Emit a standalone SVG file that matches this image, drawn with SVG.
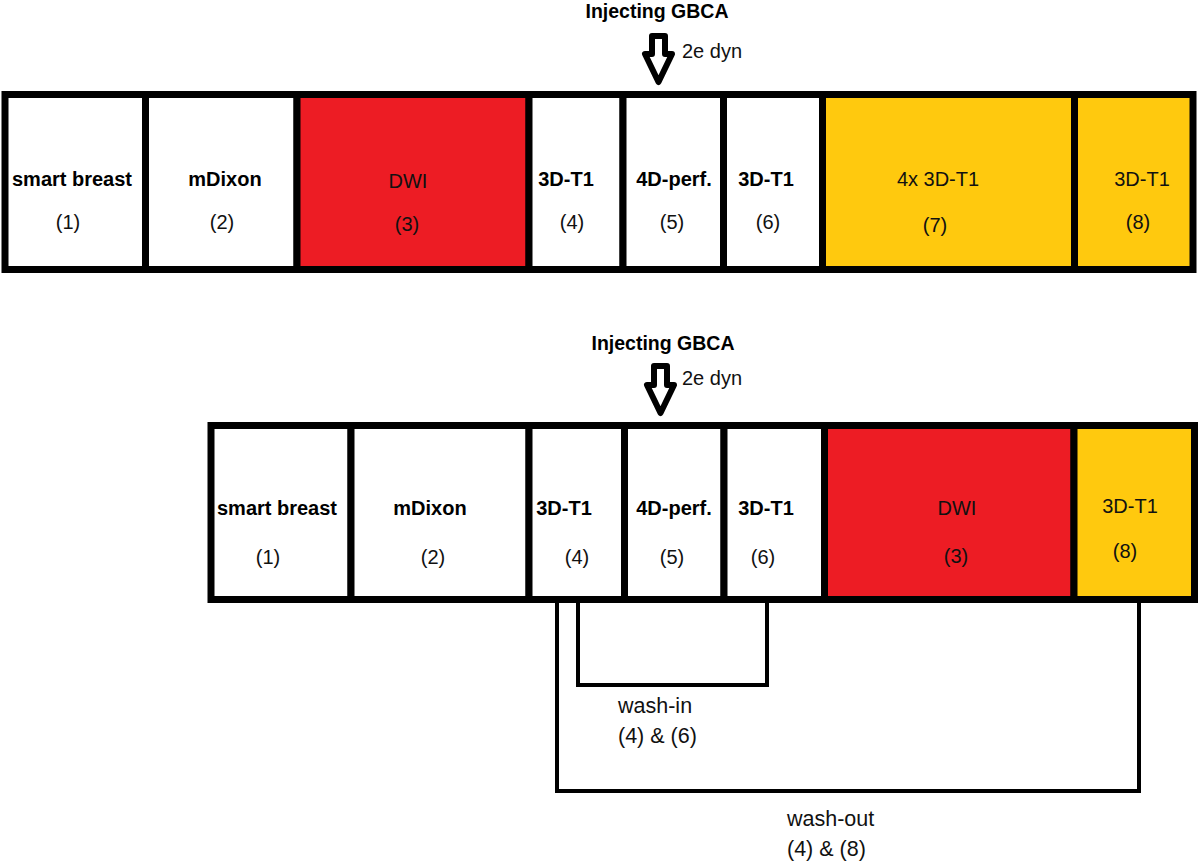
<svg xmlns="http://www.w3.org/2000/svg" width="1200" height="862" viewBox="0 0 1200 862">
<style>
.cell{stroke:#000;stroke-width:7}
.w{fill:#fff}.r{fill:#ED1C24}.y{fill:#FFC90E}
.b{font-family:"Liberation Sans",Arial,sans-serif;font-weight:bold;font-size:20px;fill:#000;text-anchor:middle}
.n{font-family:"Liberation Sans",Arial,sans-serif;font-size:20px;fill:#111;text-anchor:middle}
.l{font-family:"Liberation Sans",Arial,sans-serif;font-size:20px;fill:#111}
.lw{font-family:"Liberation Sans",Arial,sans-serif;font-size:21.5px;fill:#111}
.conn{fill:none;stroke:#000;stroke-width:4}
.arr{fill:#fff;stroke:#000;stroke-width:6;stroke-linejoin:round}
</style>
<rect width="1200" height="862" fill="#fff"/>

<g id="top-inject">
<text class="b" x="657" y="18" style="font-size:19.5px">Injecting GBCA</text>
<path class="arr" d="M652,36 H665 V54 H672 L658.5,82 L645,54 H652 Z"/>
<text class="l" x="682" y="58">2e dyn</text>
</g>

<g id="top-1"><rect class="cell w" x="5" y="94.5" width="140.5" height="175"/><text class="b" x="72" y="186">smart breast</text><text class="n" x="68" y="229">(1)</text></g>
<g id="top-2"><rect class="cell w" x="145.5" y="94.5" width="151.5" height="175"/><text class="b" x="225" y="186">mDixon</text><text class="n" x="222" y="229">(2)</text></g>
<g id="top-3"><rect class="cell r" x="297" y="94.5" width="232" height="175"/><text class="n" x="408" y="188">DWI</text><text class="n" x="407" y="231">(3)</text></g>
<g id="top-4"><rect class="cell w" x="529" y="94.5" width="94" height="175"/><text class="b" x="566" y="186">3D-T1</text><text class="n" x="572" y="229">(4)</text></g>
<g id="top-5"><rect class="cell w" x="623" y="94.5" width="100.5" height="175"/><text class="b" x="674" y="186">4D-perf.</text><text class="n" x="672" y="229">(5)</text></g>
<g id="top-6"><rect class="cell w" x="723.5" y="94.5" width="99" height="175"/><text class="b" x="766" y="186">3D-T1</text><text class="n" x="768" y="229">(6)</text></g>
<g id="top-7"><rect class="cell y" x="822.5" y="94.5" width="252" height="175"/><text class="n" x="938" y="186">4x 3D-T1</text><text class="n" x="935" y="232">(7)</text></g>
<g id="top-8"><rect class="cell y" x="1074.5" y="94.5" width="118.5" height="175"/><text class="n" x="1142" y="186">3D-T1</text><text class="n" x="1138" y="229">(8)</text></g>

<g id="bottom-inject">
<text class="b" x="663" y="350" style="font-size:19.5px">Injecting GBCA</text>
<path class="arr" d="M654,366 H667 V385 H674 L660.5,413 L647,385 H654 Z"/>
<text class="l" x="682" y="385">2e dyn</text>
</g>

<g id="bottom-1"><rect class="cell w" x="211" y="425.5" width="140" height="174"/><text class="b" x="277" y="515">smart breast</text><text class="n" x="268" y="564">(1)</text></g>
<g id="bottom-2"><rect class="cell w" x="351" y="425.5" width="178" height="174"/><text class="b" x="430" y="515">mDixon</text><text class="n" x="433" y="564">(2)</text></g>
<g id="bottom-4"><rect class="cell w" x="529" y="425.5" width="95.5" height="174"/><text class="b" x="564" y="515">3D-T1</text><text class="n" x="577" y="564">(4)</text></g>
<g id="bottom-5"><rect class="cell w" x="624.5" y="425.5" width="99.5" height="174"/><text class="b" x="674" y="515">4D-perf.</text><text class="n" x="672" y="564">(5)</text></g>
<g id="bottom-6"><rect class="cell w" x="724" y="425.5" width="100.5" height="174"/><text class="b" x="766" y="515">3D-T1</text><text class="n" x="763" y="564">(6)</text></g>
<g id="bottom-3"><rect class="cell r" x="824.5" y="425.5" width="249.5" height="174"/><text class="n" x="957" y="515">DWI</text><text class="n" x="956" y="563">(3)</text></g>
<g id="bottom-8"><rect class="cell y" x="1074" y="425.5" width="120.5" height="174"/><text class="n" x="1130" y="513">3D-T1</text><text class="n" x="1125" y="558">(8)</text></g>

<g id="connectors">
<path class="conn" d="M578,603 V685 H767 V603"/>
<path class="conn" d="M557,603 V791 H1139 V603"/>
</g>

<g id="wash-in"><text class="lw" x="618" y="713">wash-in</text><text class="lw" x="618" y="743">(4) &amp; (6)</text></g>
<g id="wash-out"><text class="lw" x="787" y="826">wash-out</text><text class="lw" x="787" y="856">(4) &amp; (8)</text></g>
</svg>
